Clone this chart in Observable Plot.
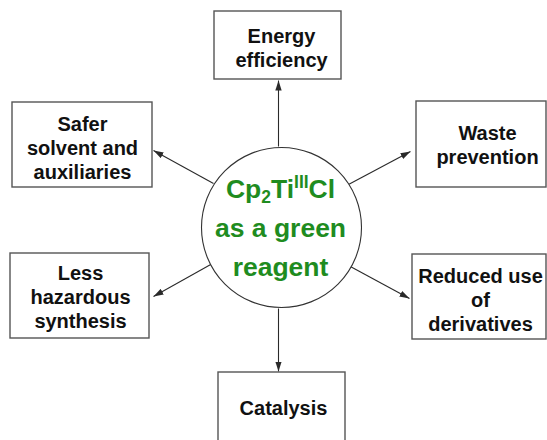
<!DOCTYPE html>
<html>
<head>
<meta charset="utf-8">
<script src="https://cdn.jsdelivr.net/npm/d3@7"></script>
<script src="https://cdn.jsdelivr.net/npm/@observablehq/plot@0.6"></script>
<style>
  html, body { margin: 0; padding: 0; background: #fff; overflow: hidden; }
</style>
</head>
<body>
<div id="chart"></div>
<script>
// ---- content ----
const principles = [
  "Energy\nefficiency",
  "Safer\nsolvent and\nauxiliaries",
  "Waste\nprevention",
  "Less\nhazardous\nsynthesis",
  "Reduced use\nof\nderivatives",
  "Catalysis"
];
const centerLines = ["Cp2TiIIICl", "as a green", "reagent"];
const formulaParts = [
  {t: "Cp", k: "n"}, {t: "2", k: "sub"}, {t: "Ti", k: "n"}, {t: "III", k: "sup"}, {t: "Cl", k: "n"}
];

// ---- layout (diagram geometry in pixel space) ----
const boxX1 = [214, 12, 416, 10, 412, 218];
const boxX2 = [341, 152, 546, 149, 546, 345];
const boxY1 = [11, 102, 101, 253, 254, 372];
const boxY2 = [79, 187, 187, 338, 339, 452];
const labelX = [281, 82, 487, 80, 480, 283];
const labelY = [47, 146.6, 143.6, 295.6, 299, 406.6];
const arrowX1 = [278, 213, 348, 212, 348, 278];
const arrowY1 = [146, 183, 184, 263, 265, 308];
const arrowX2 = [278, 153, 410, 153, 409, 278];
const arrowY2 = [80, 150, 151, 296, 298, 371];
const hub = {x: 281, y: 227, r: 80, textX: 280, textY: 224};

const boxes = principles.map((label, i) => ({
  label, x1: boxX1[i], x2: boxX2[i], y1: boxY1[i], y2: boxY2[i], lx: labelX[i], ly: labelY[i]
}));
const arrows = principles.map((_, i) => ({x1: arrowX1[i], y1: arrowY1[i], x2: arrowX2[i], y2: arrowY2[i]}));

const font = "'Liberation Sans', Arial, Helvetica, sans-serif";
const lineColor = "#2a2a2a";

const chart = Plot.plot({
  width: 547,
  height: 440,
  margin: 0,
  x: {domain: [0, 547], range: [0, 547], axis: null},
  y: {domain: [0, 440], range: [0, 440], axis: null},
  style: {fontFamily: font, background: "#fff"},
  marks: [
    Plot.link(arrows, {
      x1: "x1", y1: "y1", x2: "x2", y2: "y2",
      stroke: lineColor, strokeWidth: 1.1, markerEnd: "arrow", className: "arrows"
    }),
    Plot.dot([hub], {x: "x", y: "y", r: 80, fill: "#fff", stroke: "#333", strokeWidth: 1.1}),
    Plot.rect(boxes, {x1: "x1", x2: "x2", y1: "y1", y2: "y2", fill: "#fff", stroke: "#555", strokeWidth: 1.4}),
    Plot.text(boxes, {
      x: "lx", y: "ly", text: "label", fontSize: 20, fontWeight: "bold", fill: "#111",
      lineHeight: 1.2, lineAnchor: "middle", textAnchor: "middle"
    }),
    Plot.text([centerLines.join("\n")], {
      x: () => hub.textX, y: () => hub.textY, text: d => d, fontSize: 26.5, fontWeight: "bold",
      fill: "#1f8c1f", lineHeight: 1.47, lineAnchor: "middle", textAnchor: "middle",
      className: "hub-label"
    })
  ]
});

// filled arrowheads
d3.select(chart).selectAll("marker").each(function () {
  const m = d3.select(this);
  m.attr("viewBox", "-10 -4 10 8")
   .attr("markerWidth", 10).attr("markerHeight", 8)
   .attr("markerUnits", "userSpaceOnUse")
   .attr("refX", 0).attr("refY", 0)
   .attr("fill", lineColor).attr("stroke", "none");
  m.selectAll("*").remove();
  m.append("path").attr("d", "M-10,-3.2L0,0L-10,3.2Z").attr("fill", lineColor).attr("stroke", "none");
});

// render the formula line with subscript / superscript
const first = d3.select(chart).select(".hub-label text tspan");
if (!first.empty()) {
  first.text("");
  let shift = 0;
  for (const p of formulaParts) {
    const t = first.append("tspan").text(p.t);
    const target = p.k === "sub" ? 5 : p.k === "sup" ? -10 : 0;
    if (p.k !== "n") t.attr("font-size", "17.5px");
    t.attr("dy", target - shift);
    shift = target;
  }
}

document.getElementById("chart").appendChild(chart);
</script>
</body>
</html>
